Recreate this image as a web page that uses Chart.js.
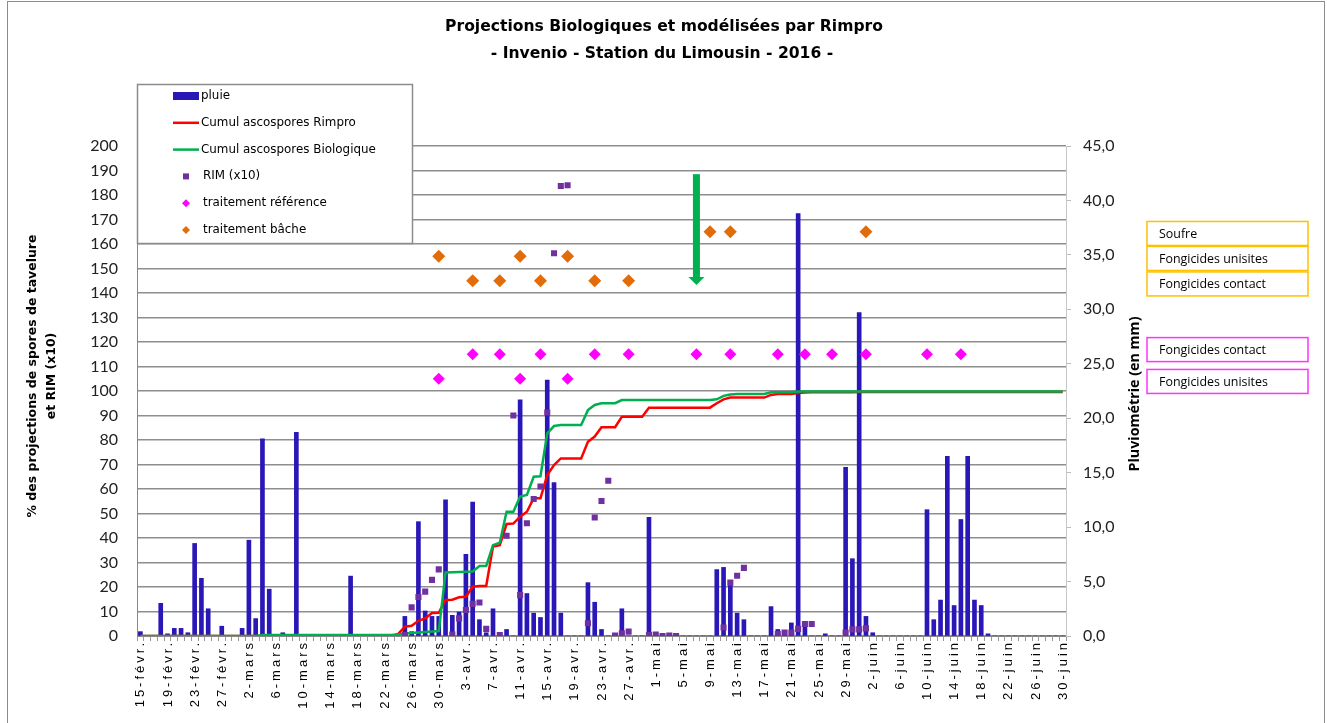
<!DOCTYPE html>
<html>
<head>
<meta charset="utf-8">
<script src="https://cdn.jsdelivr.net/npm/chart.js@4/dist/chart.umd.min.js"></script>
<style>
html, body { margin: 0; padding: 0; background: #fff; }
#wrap { width: 1327px; height: 723px; }
</style>
</head>
<body>
<div id="wrap"><canvas id="rimChart" width="1327" height="723"></canvas></div>
<script>
// categories : 15 fevrier -> 30 juin 2016, one per day
const monthNames = ['févr.', 'mars', 'avr.', 'mai', 'juin'];
const monthFirst = [15, 1, 1, 1, 1];
const monthLast = [29, 31, 30, 31, 30];
const days = [];
for (let m = 0; m < monthNames.length; m++) {
  for (let d = monthFirst[m]; d <= monthLast[m]; d++) days.push(d + '-' + monthNames[m]);
}

// pluie en mm (axe de droite)
const pluie = [
  0.4, 0, 0, 3.0, 0.2, 0.7, 0.7, 0.3, 8.5, 5.3,
  2.5, 0, 0.9, 0, 0, 0.7, 8.8, 1.6, 18.1, 4.3,
  0, 0.3, 0, 18.7, 0, 0, 0, 0, 0, 0,
  0, 5.5, 0, 0, 0, 0, 0, 0, 0, 1.8,
  0.4, 10.5, 2.3, 1.8, 1.8, 12.5, 1.9, 2.2, 7.5, 12.3,
  1.5, 0.3, 2.5, 0, 0.6, 0, 21.7, 3.9, 2.1, 1.7,
  23.5, 14.1, 2.1, 0, 0, 0, 4.9, 3.1, 0.6, 0,
  0, 2.5, 0, 0, 0, 10.9, 0, 0, 0, 0,
  0, 0, 0, 0, 0, 6.1, 6.3, 5.1, 2.1, 1.5,
  0, 0, 0, 2.7, 0.6, 0.5, 1.2, 38.8, 0.9, 0,
  0, 0.2, 0, 0, 15.5, 7.1, 29.7, 1.8, 0.3, 0,
  0, 0, 0, 0, 0, 0, 11.6, 1.5, 3.3, 16.5,
  2.8, 10.7, 16.5, 3.3, 2.8, 0.2, 0, 0, 0, 0,
  0, 0, 0, 0, 0, 0, 0
];

// cumul ascospores Rimpro (%)
const cumulRimpro = [
  0, 0, 0, 0, 0, 0, 0, 0, 0, 0,
  0, 0, 0, 0, 0, 0, 0, 0, 0, 0,
  0, 0, 0, 0, 0, 0, 0, 0, 0, 0,
  0, 0, 0, 0, 0, 0, 0, 0, 0.8, 3.8,
  4.2, 6.2, 7.2, 9.4, 9.5, 14.7, 14.8, 15.8, 16.0, 20.1,
  20.4, 20.4, 36.5, 37.1, 45.7, 45.9, 48.7, 50.7, 56.2, 56.2,
  65.7, 69.8, 72.5, 72.5, 72.5, 72.5, 79.3, 81.4, 85.2, 85.2,
  85.2, 89.5, 89.5, 89.5, 89.5, 93.2, 93.2, 93.2, 93.2, 93.2,
  93.2, 93.2, 93.2, 93.2, 93.2, 95.0, 96.6, 97.3, 97.3, 97.3,
  97.3, 97.3, 97.3, 98.4, 98.8, 98.8, 98.8, 99.2, 99.4, 99.5,
  99.5, 99.5, 99.5, 99.5, 99.5, 99.5, 99.6, 99.6, 99.6, 99.6,
  99.6, 99.6, 99.6, 99.6, 99.6, 99.6, 99.6, 99.6, 99.6, 99.6,
  99.6, 99.6, 99.6, 99.6, 99.6, 99.6, 99.6, 99.6, 99.6, 99.6,
  99.6, 99.6, 99.6, 99.6, 99.6, 99.6, 99.6
];

// cumul ascospores biologique (%)
const cumulBio = [
  0, 0, 0, 0, 0, 0, 0, 0, 0, 0,
  0, 0, 0, 0, 0, 0, 0, 0, 0.4, 0.4,
  0.4, 0.4, 0.4, 0.4, 0.4, 0.4, 0.4, 0.4, 0.4, 0.4,
  0.4, 0.4, 0.4, 0.4, 0.4, 0.4, 0.4, 0.4, 0.6, 1.0,
  1.2, 1.4, 1.6, 1.8, 2.0, 25.9, 26.0, 26.1, 26.2, 26.3,
  28.6, 28.6, 37.1, 38.1, 50.7, 50.7, 56.9, 57.6, 65.0, 65.2,
  82.7, 85.7, 86.1, 86.1, 86.1, 86.1, 92.2, 94.3, 95.0, 95.0,
  95.0, 96.3, 96.3, 96.3, 96.3, 96.3, 96.3, 96.3, 96.3, 96.3,
  96.3, 96.3, 96.3, 96.3, 96.3, 96.6, 98.0, 98.6, 98.8, 98.8,
  98.8, 98.8, 98.8, 99.5, 99.5, 99.5, 99.5, 99.8, 99.8, 99.8,
  99.8, 99.8, 99.8, 99.8, 99.8, 99.8, 99.8, 99.8, 99.8, 99.8,
  99.8, 99.8, 99.8, 99.8, 99.8, 99.8, 99.8, 99.8, 99.8, 99.8,
  99.8, 99.8, 99.8, 99.8, 99.8, 99.8, 99.8, 99.8, 99.8, 99.8,
  99.8, 99.8, 99.8, 99.8, 99.8, 99.8, 99.8
];

// RIM (x10)
const rim = [
  null, null, null, null, null, null, null, null, null, null,
  null, null, null, null, null, null, null, null, null, null,
  null, null, null, null, null, null, null, null, null, null,
  null, null, null, null, null, null, null, null, null, 0.4,
  11.7, 15.9, 18.1, 22.9, 27.2, null, 0.6, 7.2, 10.6, 13.1,
  13.7, 2.9, null, 0.4, 40.9, 90, 16.7, 46, 55.9, 61,
  91.2, 156.2, 183.7, 184, null, null, 5.2, 48.4, 55.1, 63.4,
  0.2, 1.1, 1.8, null, null, 0.4, 0.6, 0, 0.2, 0,
  null, null, null, null, null, null, 3.5, 21.8, 24.6, 27.8,
  null, null, null, null, 0.8, 1.4, 1.4, 2.9, 4.9, 4.9,
  null, null, null, null, 1.4, 2.7, 2.7, 3.1, null, null,
  null, null, null, null, null, null, null, null, null, null,
  null, null, null, null, null, null, null, null, null, null,
  null, null, null, null, null, null, null
];

// traitements
const refDates = ['30-mars', '4-avr.', '8-avr.', '11-avr.', '14-avr.', '18-avr.', '22-avr.', '27-avr.',
  '7-mai', '12-mai', '19-mai', '23-mai', '27-mai', '1-juin', '10-juin', '15-juin'];
const refLevels = [105, 115, 115, 105, 115, 105, 115, 115, 115, 115, 115, 115, 115, 115, 115, 115];
const bacheDates = ['30-mars', '4-avr.', '8-avr.', '11-avr.', '14-avr.', '18-avr.', '22-avr.', '27-avr.',
  '9-mai', '12-mai', '1-juin'];
const bacheLevels = [155, 145, 145, 155, 145, 155, 145, 145, 165, 165, 165];

// fleche verte
const arrowDate = '7-mai';
const arrowFrom = 188.5;
const arrowTo = 143.3;

// etiquettes des traitements (droite)
const boxTexts = ['Soufre', 'Fongicides unisites', 'Fongicides contact', 'Fongicides contact', 'Fongicides unisites'];
const boxLevels = [164.3, 154.1, 143.7, 116.9, 103.9];
const boxColors = ['#ffc000', '#ffc000', '#ffc000', '#ff33ff', '#ff33ff'];

const titleLines = ['Projections Biologiques et modélisées par Rimpro', '- Invenio - Station du Limousin - 2016 -'];
const leftTitle = ['% des projections de spores de tavelure', 'et RIM (x10)'];
const rightTitle = 'Pluviométrie (en mm)';

const colBar = '#2a17b8', colRed = '#ff0000', colGreen = '#00b050', colRim = '#7030a0',
  colRef = '#ff00ff', colBache = '#e36c0a';

function fitFont(ctx, text, weight, family, width) {
  ctx.font = weight + ' 20px ' + family;
  const size = 20 * width / ctx.measureText(text).width;
  return weight + ' ' + size.toFixed(2) + 'px ' + family;
}

const decor = {
  id: 'decor',
  beforeDraw(chart) {
    const ctx = chart.ctx;
    ctx.save();
    ctx.fillStyle = '#fff';
    ctx.fillRect(0, 0, chart.width, chart.height);
    ctx.restore();
  },
  afterDraw(chart) {
    const ctx = chart.ctx;
    const xs = chart.scales.x, ys = chart.scales.y, area = chart.chartArea;
    ctx.save();

    // cadre
    ctx.strokeStyle = '#8c8c8c';
    ctx.lineWidth = 1;
    ctx.strokeRect(7.5, 1.5, 1317, 740);

    // titre
    ctx.fillStyle = '#000';
    ctx.textAlign = 'center';
    ctx.textBaseline = 'middle';
    ctx.font = fitFont(ctx, titleLines[0], 'bold', '"DejaVu Sans"', 438);
    ctx.fillText(titleLines[0], 664, 27);
    ctx.fillText(titleLines[1], 662, 54);

    // titre axe gauche
    ctx.font = fitFont(ctx, leftTitle[0], 'bold', '"DejaVu Sans"', 283);
    [33, 52].forEach((x, i) => {
      ctx.save();
      ctx.translate(x, 376);
      ctx.rotate(-Math.PI / 2);
      ctx.fillText(leftTitle[i], 0, 0);
      ctx.restore();
    });

    // titre axe droit
    ctx.font = fitFont(ctx, rightTitle, 'bold', '"Open Sans"', 155);
    ctx.save();
    ctx.translate(1135, 394);
    ctx.rotate(-Math.PI / 2);
    ctx.fillText(rightTitle, 0, 0);
    ctx.restore();

    // dates en abscisse
    ctx.font = '13px "Liberation Sans"';
    ctx.letterSpacing = '3px';
    ctx.fillStyle = '#000';
    ctx.textAlign = 'right';
    days.forEach((d, i) => {
      if (i % 4) return;
      ctx.save();
      ctx.translate(xs.getPixelForValue(i) + 0.5, area.bottom + 4);
      ctx.rotate(-Math.PI / 2);
      ctx.fillText(d, 0, 0);
      ctx.restore();
    });
    ctx.letterSpacing = '0px';

    // fleche
    const ax = xs.getPixelForValue(days.indexOf(arrowDate));
    const yTop = ys.getPixelForValue(arrowFrom), yTip = ys.getPixelForValue(arrowTo);
    ctx.fillStyle = colGreen;
    ctx.fillRect(ax - 3.5, yTop, 7, yTip - yTop - 7);
    ctx.beginPath();
    ctx.moveTo(ax - 8, yTip - 8);
    ctx.lineTo(ax + 8, yTip - 8);
    ctx.lineTo(ax, yTip);
    ctx.closePath();
    ctx.fill();

    // etiquettes encadrees
    ctx.textAlign = 'left';
    ctx.font = fitFont(ctx, 'Fongicides unisites', '', '"Open Sans"', 109);
    boxTexts.forEach((t, i) => {
      const yc = ys.getPixelForValue(boxLevels[i]);
      ctx.strokeStyle = boxColors[i];
      ctx.lineWidth = 1.5;
      ctx.strokeRect(area.right + 81, yc - 12, 161, 24);
      ctx.fillStyle = '#000';
      ctx.fillText(t, area.right + 93, yc + 1);
    });

    // legende
    ctx.fillStyle = '#fff';
    ctx.fillRect(137, 84, 275, 159);
    ctx.strokeStyle = '#8c8c8c';
    ctx.lineWidth = 1.5;
    ctx.strokeRect(137.5, 84.5, 275, 159);
    const legendFont = fitFont(ctx, 'Cumul ascospores Biologique', '', '"DejaVu Sans"', 175);
    const items = chart.data.datasets.slice().reverse();
    items.forEach((ds, i) => {
      const y = 96 + i * 26.8;
      if (ds.type === 'bar') {
        ctx.fillStyle = ds.backgroundColor;
        ctx.fillRect(173, y - 4, 26, 8);
      } else if (ds.showLine !== false) {
        ctx.strokeStyle = ds.borderColor;
        ctx.lineWidth = 2.5;
        ctx.beginPath();
        ctx.moveTo(173, y);
        ctx.lineTo(199, y);
        ctx.stroke();
      } else {
        ctx.fillStyle = ds.pointBackgroundColor;
        ctx.beginPath();
        if (ds.pointStyle === 'rect') {
          ctx.rect(183, y - 3, 6, 6);
        } else {
          ctx.moveTo(186, y - 4); ctx.lineTo(190, y); ctx.lineTo(186, y + 4); ctx.lineTo(182, y);
        }
        ctx.fill();
      }
      ctx.fillStyle = '#000';
      ctx.font = legendFont;
      ctx.textBaseline = 'middle';
      ctx.fillText(ds.label, ds.showLine === false && ds.type !== 'bar' ? 203 : 201, y);
    });

    ctx.restore();
  }
};

new Chart(document.getElementById('rimChart'), {
  data: {
    labels: days,
    datasets: [
      {
        type: 'line', label: 'traitement bâche',
        data: bacheDates.map((d, i) => ({ x: d, y: bacheLevels[i] })),
        showLine: false, pointStyle: 'rectRot', pointRadius: 6.5, pointBorderWidth: 0,
        pointBackgroundColor: colBache, borderColor: colBache, yAxisID: 'y', order: 1
      },
      {
        type: 'line', label: 'traitement référence',
        data: refDates.map((d, i) => ({ x: d, y: refLevels[i] })),
        showLine: false, pointStyle: 'rectRot', pointRadius: 6, pointBorderWidth: 0,
        pointBackgroundColor: colRef, borderColor: colRef, yAxisID: 'y', order: 2
      },
      {
        type: 'line', label: 'RIM (x10)', data: rim,
        showLine: false, pointStyle: 'rect', pointRadius: 4.3, pointBorderWidth: 0,
        pointBackgroundColor: colRim, borderColor: colRim, yAxisID: 'y', order: 3
      },
      {
        type: 'line', label: 'Cumul ascospores Biologique', data: cumulBio,
        borderColor: colGreen, borderWidth: 2.5, pointRadius: 0, tension: 0, yAxisID: 'y', order: 4
      },
      {
        type: 'line', label: 'Cumul ascospores Rimpro', data: cumulRimpro,
        borderColor: colRed, borderWidth: 2.5, pointRadius: 0, tension: 0, yAxisID: 'y', order: 5
      },
      {
        type: 'bar', label: 'pluie', data: pluie,
        backgroundColor: colBar, barThickness: 4, yAxisID: 'y1', order: 6
      }
    ]
  },
  options: {
    responsive: false,
    animation: false,
    layout: { padding: { top: 146, left: 0, right: 0, bottom: 0 } },
    plugins: { legend: { display: false }, tooltip: { enabled: false }, title: { display: false } },
    scales: {
      x: {
        type: 'category',
        afterFit(s) { s.height = 87; },
        grid: { drawOnChartArea: false, drawTicks: true, tickLength: 5, color: '#999', offset: true },
        border: { display: true, color: '#888' },
        ticks: { display: false, autoSkip: false }
      },
      y: {
        position: 'left', min: 0, max: 200,
        afterFit(s) { s.width = 137; },
        grid: { color: '#8e8e8e', lineWidth: 1.5, drawTicks: false },
        border: { display: true, color: '#888' },
        ticks: { stepSize: 10, padding: 19, color: '#222', font: { family: 'Lato', size: 16 } }
      },
      y1: {
        position: 'right', min: 0, max: 45,
        afterFit(s) { s.width = 261; },
        grid: { drawOnChartArea: false, drawTicks: true, tickLength: 5, color: '#bbb' },
        border: { display: true, color: '#c8c8c8' },
        ticks: {
          stepSize: 5, padding: 12, color: '#222', font: { family: 'Lato', size: 16 },
          callback: v => v.toFixed(1).replace('.', ',')
        }
      }
    }
  },
  plugins: [decor]
});
</script>
</body>
</html>
